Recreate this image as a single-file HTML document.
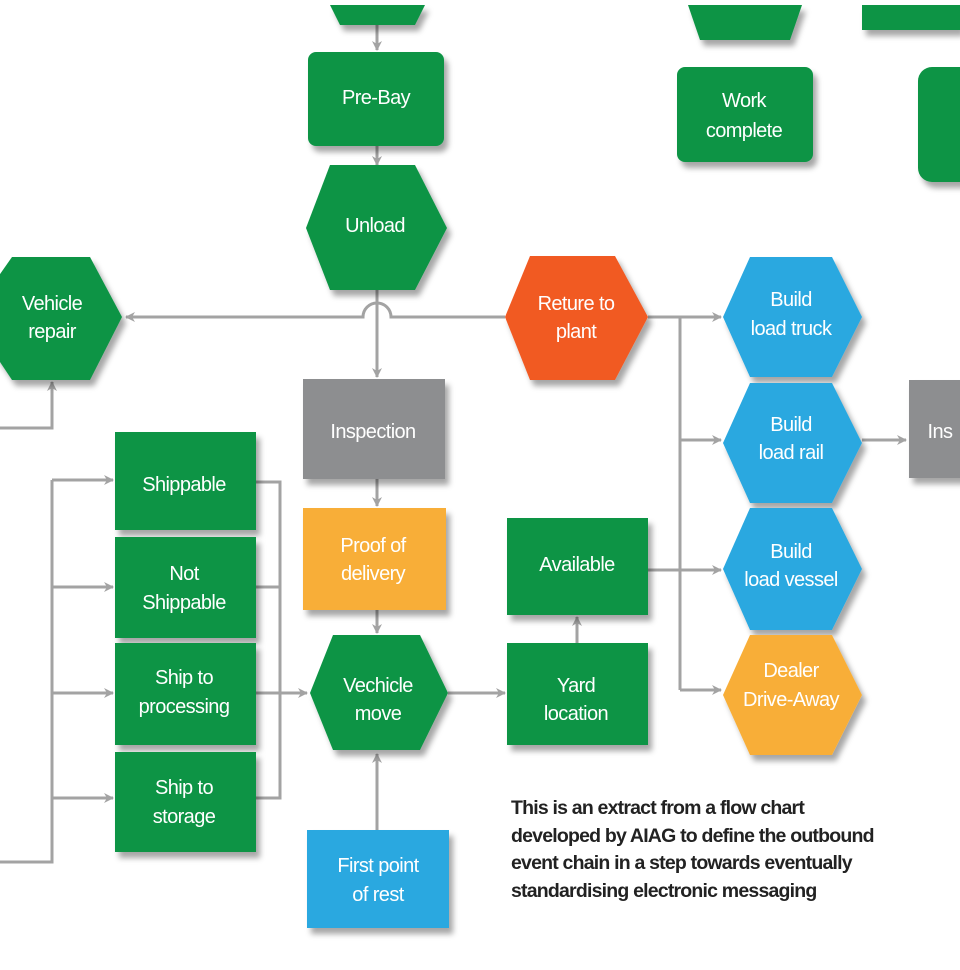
<!DOCTYPE html>
<html><head><meta charset="utf-8"><style>
html,body{margin:0;padding:0;background:#fff;width:960px;height:970px;overflow:hidden}
svg text{font-family:"Liberation Sans",sans-serif;font-size:20px;fill:#fff;text-anchor:middle;letter-spacing:-0.6px}
svg text.p{fill:#222;text-anchor:start;font-weight:bold;font-size:19.5px;letter-spacing:-0.8px}
</style></head><body>
<svg width="960" height="970" viewBox="0 0 960 970" xmlns="http://www.w3.org/2000/svg">
<defs>
<filter id="sh" x="-20%" y="-20%" width="150%" height="150%"><feDropShadow dx="4" dy="6" stdDeviation="3" flood-color="#000" flood-opacity="0.35"/></filter>
<marker id="ar" markerWidth="10" markerHeight="10" refX="9" refY="5" orient="auto" markerUnits="userSpaceOnUse"><path d="M0,0 L10,5 L0,10 L3,5 Z" fill="#a3a3a3"/></marker>
</defs>
<g stroke="#a3a3a3" stroke-width="3" fill="none">
<line x1="377" y1="25" x2="377" y2="50" marker-end="url(#ar)"/>
<line x1="377" y1="146" x2="377" y2="165" marker-end="url(#ar)"/>
<line x1="377" y1="290" x2="377" y2="377" marker-end="url(#ar)"/>
<path d="M505,317 H391 A14,14 0 0 0 363,317 H126" marker-end="url(#ar)"/>
<path d="M0,428 H52 V382" marker-end="url(#ar)"/>
<line x1="648" y1="317" x2="721" y2="317" marker-end="url(#ar)"/>
<line x1="680" y1="317" x2="680" y2="690"/>
<line x1="680" y1="440" x2="721" y2="440" marker-end="url(#ar)"/>
<line x1="648" y1="570" x2="721" y2="570" marker-end="url(#ar)"/>
<line x1="680" y1="690" x2="721" y2="690" marker-end="url(#ar)"/>
<line x1="862" y1="440" x2="906" y2="440" marker-end="url(#ar)"/>
<line x1="377" y1="479" x2="377" y2="506" marker-end="url(#ar)"/>
<line x1="377" y1="610" x2="377" y2="633" marker-end="url(#ar)"/>
<line x1="448" y1="693" x2="505" y2="693" marker-end="url(#ar)"/>
<line x1="577" y1="643" x2="577" y2="617" marker-end="url(#ar)"/>
<line x1="377" y1="830" x2="377" y2="754" marker-end="url(#ar)"/>
<path d="M0,862 H52 V480"/>
<line x1="52" y1="480" x2="113" y2="480" marker-end="url(#ar)"/>
<line x1="52" y1="587" x2="113" y2="587" marker-end="url(#ar)"/>
<line x1="52" y1="693" x2="113" y2="693" marker-end="url(#ar)"/>
<line x1="52" y1="798" x2="113" y2="798" marker-end="url(#ar)"/>
<path d="M256,482 H280 V798 H256 M256,587 H280"/>
<line x1="256" y1="693" x2="307" y2="693" marker-end="url(#ar)"/>
</g>
<g filter="url(#sh)">
<polygon points="330,5 425,5 415,25 340,25" fill="#0b9444"/>
<polygon points="688,5 802,5 790,40 700,40" fill="#0b9444"/>
<rect x="862" y="5" width="98" height="25" fill="#0b9444"/>
<rect x="918" y="67" width="60" height="115" rx="14" fill="#0b9444"/>
<rect x="308" y="52" width="136" height="94" rx="8" fill="#0b9444"/>
<rect x="677" y="67" width="136" height="95" rx="8" fill="#0b9444"/>
<polygon points="330,165 415,165 447,228 415,290 330,290 306,228" fill="#0b9444"/>
<polygon points="-30,317 12,257 90,257 122,317 90,380 12,380" fill="#0b9444"/>
<polygon points="530,256 615,256 648,317 615,380 530,380 505,317" fill="#f15a24"/>
<polygon points="750,257 832,257 862,317 832,377 750,377 723,317" fill="#29a8e0"/>
<polygon points="750,383 832,383 862,443 832,503 750,503 723,443" fill="#29a8e0"/>
<polygon points="750,508 832,508 862,569 832,630 750,630 723,569" fill="#29a8e0"/>
<polygon points="750,635 832,635 862,695 832,755 750,755 723,695" fill="#f8ae38"/>
<rect x="909" y="380" width="60" height="98" fill="#8d8e90"/>
<rect x="303" y="379" width="142" height="100" fill="#8d8e90"/>
<rect x="303" y="508" width="143" height="102" fill="#f8ae38"/>
<polygon points="333,635 420,635 448,693 420,750 333,750 310,693" fill="#0b9444"/>
<rect x="507" y="518" width="141" height="97" fill="#0b9444"/>
<rect x="507" y="643" width="141" height="102" fill="#0b9444"/>
<rect x="307" y="830" width="142" height="98" fill="#29a8e0"/>
<rect x="115" y="432" width="141" height="98" fill="#0b9444"/>
<rect x="115" y="537" width="141" height="101" fill="#0b9444"/>
<rect x="115" y="643" width="141" height="102" fill="#0b9444"/>
<rect x="115" y="752" width="141" height="100" fill="#0b9444"/>
</g>
<text x="376" y="104">Pre-Bay</text>
<text x="744" y="107">Work</text><text x="744" y="137">complete</text>
<text x="375" y="232">Unload</text>
<text x="52" y="310">Vehicle</text><text x="52" y="338">repair</text>
<text x="576" y="310">Reture to</text><text x="576" y="338">plant</text>
<text x="791" y="306">Build</text><text x="791" y="335">load truck</text>
<text x="791" y="431">Build</text><text x="791" y="459">load rail</text>
<text x="791" y="558">Build</text><text x="791" y="586">load vessel</text>
<text x="791" y="677">Dealer</text><text x="791" y="706">Drive-Away</text>
<text x="940" y="438">Ins</text>
<text x="373" y="438">Inspection</text>
<text x="373" y="552">Proof of</text><text x="373" y="580">delivery</text>
<text x="378" y="692">Vechicle</text><text x="378" y="720">move</text>
<text x="577" y="571">Available</text>
<text x="576" y="692">Yard</text><text x="576" y="720">location</text>
<text x="378" y="872">First point</text><text x="378" y="901">of rest</text>
<text x="184" y="491">Shippable</text>
<text x="184" y="580">Not</text><text x="184" y="609">Shippable</text>
<text x="184" y="684">Ship to</text><text x="184" y="713">processing</text>
<text x="184" y="794">Ship to</text><text x="184" y="823">storage</text>
<text class="p" x="511" y="814">This is an extract from a flow chart</text>
<text class="p" x="511" y="842">developed by AIAG to define the outbound</text>
<text class="p" x="511" y="869">event chain in a step towards eventually</text>
<text class="p" x="511" y="897">standardising electronic messaging</text>
</svg>
</body></html>
